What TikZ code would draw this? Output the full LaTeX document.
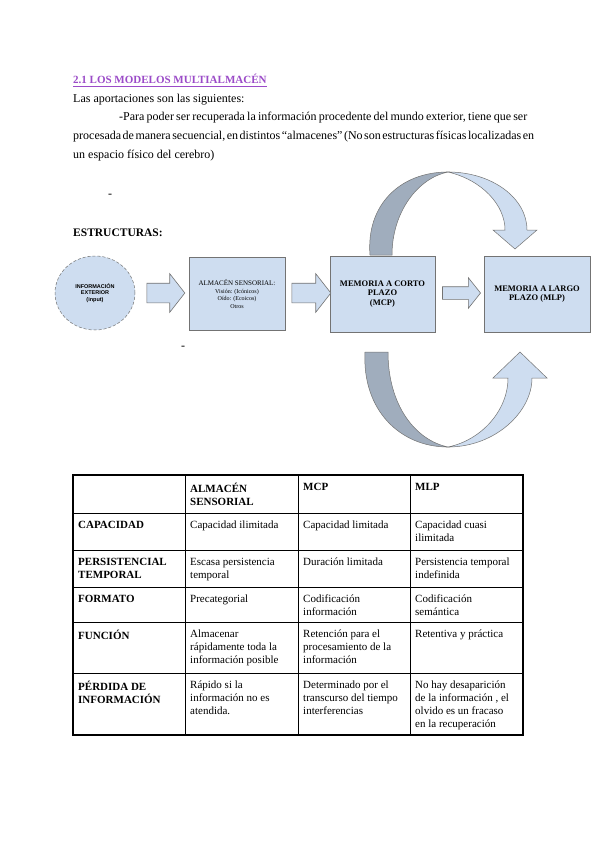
\documentclass[tikz,border=0pt]{standalone}
\usepackage{fontspec}
\setmainfont{Liberation Serif}
\newfontfamily\sansf{Liberation Sans}
\usetikzlibrary{shapes.geometric,shapes.arrows,calc}
\definecolor{boxblue}{RGB}{206,221,240}
\definecolor{darkband}{RGB}{160,173,189}
\definecolor{edgegray}{RGB}{115,115,115}
\definecolor{titlepurple}{RGB}{155,75,200}
\newcommand\cstrut{\rule{0pt}{8pt}}
\begin{document}
\begin{tikzpicture}[x=1pt,y=-1pt,
  txt/.style={anchor=base west, inner sep=0pt, font=\fontsize{12}{14}\selectfont},
  boxstyle/.style={draw=edgegray, line width=0.6pt, fill=boxblue, inner sep=0pt, align=center},
  blockarrow/.style={single arrow, draw=edgegray, fill=boxblue, line width=0.6pt,
     inner xsep=0pt, minimum width=0pt, single arrow head indent=0pt},
  lightband/.style={draw=edgegray, line width=0.5pt, fill=boxblue},
  darkpart/.style={draw=edgegray, line width=0.5pt, fill=darkband},
  cell/.style={anchor=north west, inner sep=0pt, align=left, font=\fontsize{11}{13}\selectfont},
  hcell/.style={cell, font=\bfseries\fontsize{11}{13}\selectfont},
  gridline/.style={line width=0.8pt, black}
]
\useasboundingbox (0,0) rectangle (600,848);
\fill[white] (0,0) rectangle (600,848);

% ---- header text ----
\node[txt, font=\bfseries\fontsize{11}{13}\selectfont, text=titlepurple] (title) at (73,84) {2.1 LOS MODELOS MULTIALMACÉN};
\draw[titlepurple, line width=0.6pt] ($(title.base west)+(0,2.5)$) -- ($(title.base east)+(0,2.5)$);
\node[txt] (intro) at (73,102.5) {Las aportaciones son las siguientes:};
\node[txt] (p1) at (119,121) {\makebox[408pt][s]{-Para poder ser recuperada la información procedente del mundo exterior, tiene que ser}};
\node[txt] (p2) at (73,139.5) {\makebox[454pt][s]{\spaceskip=2pt plus 3pt minus 0.5pt procesada de manera secuencial, en distintos “almacenes” (No son estructuras físicas localizadas en}};
\node[txt] (p3) at (73,158) {un espacio físico del cerebro)};
\node[txt] (dash1) at (108,197) {-};
\node[txt, font=\bfseries\fontsize{11.5}{14}\selectfont] (estr) at (73,236) {ESTRUCTURAS:};
\node[txt] (dash2) at (181,349) {-};

% ---- diagram ----
\node[ellipse, draw=edgegray, densely dashed, line width=0.5pt, fill=boxblue, minimum width=80pt, minimum height=74pt, inner sep=0pt,
      align=center, font=\sansf\bfseries\fontsize{5.5}{6.5}\selectfont] (info) at (95,293)
      {INFORMACIÓN\\EXTERIOR\\(input)};
\node[boxstyle, minimum width=96pt, minimum height=73pt, font=\fontsize{7}{7.5}\selectfont] (alm) at (237,294)
      {ALMACÉN SENSORIAL:\\{\fontsize{6}{7}\selectfont Visión: (Icónicos)}\\{\fontsize{6}{7}\selectfont Oído: (Ecoicos)}\\{\fontsize{6}{7}\selectfont Otros}};
\node[boxstyle, minimum width=105pt, minimum height=76pt, font=\bfseries\fontsize{8.5}{9.5}\selectfont] (mcp) at (382.5,294)
      {MEMORIA A CORTO\\PLAZO\\(MCP)};
\node[boxstyle, minimum width=106pt, minimum height=76pt, font=\bfseries\fontsize{8.5}{9.5}\selectfont] (mlp) at (537,294)
      {MEMORIA A LARGO\\PLAZO (MLP)};

\node[blockarrow, minimum height=38pt, inner ysep=9.5pt, single arrow head extend=9.5pt, single arrow tip angle=104] (a1) at (162,293) {};
\node[blockarrow, minimum height=39pt, inner ysep=9.5pt, single arrow head extend=9.5pt, single arrow tip angle=104] (a2) at (307.5,293) {};
\node[blockarrow, minimum height=38pt, inner ysep=6pt, single arrow head extend=9pt, single arrow tip angle=103] (a3) at (459,293) {};

% top curved arrow
\filldraw[darkpart] (370,255) .. controls (366,205) and (400,172) .. (448,172) .. controls (418,178) and (392,212) .. (392,255) -- cycle;
\filldraw[lightband] (448,172) .. controls (492,172) and (527,198) .. (527,230) -- (537,230) -- (515,249) -- (493,230) -- (505,230) .. controls (505,205) and (482,180) .. (448,172) -- cycle;
% bottom curved arrow
\filldraw[darkpart] (365,352) .. controls (362,410) and (400,447) .. (448,447) .. controls (415,440) and (388,405) .. (388,352) -- cycle;
\filldraw[lightband] (448,447) .. controls (495,447) and (532,412) .. (532,378) -- (547,378) -- (520,352) -- (493,378) -- (508,378) .. controls (508,410) and (482,440) .. (448,447) -- cycle;

% ---- table ----
\foreach \y in {513,550,587,622,673} \draw[gridline] (73,\y) -- (523,\y);
\foreach \x in {185,298,410} \draw[gridline] (\x,475) -- (\x,735);
\draw[line width=1.1pt] (73,475) rectangle (523,735);

\node[hcell] (h1) at (190,482.5) {\cstrut ALMACÉN\\SENSORIAL};
\node[hcell] (h2) at (303,482.5) {\cstrut MCP};
\node[hcell] (h3) at (415,482.5) {\cstrut MLP};

\node[hcell] (r1) at (78,520.5) {\cstrut CAPACIDAD};
\node[cell] (c11) at (190,520.5) {\cstrut Capacidad ilimitada};
\node[cell] (c12) at (303,520.5) {\cstrut Capacidad limitada};
\node[cell] (c13) at (415,520.5) {\cstrut Capacidad cuasi\\ilimitada};

\node[hcell] (r2) at (78,557.5) {\cstrut PERSISTENCIAL\\TEMPORAL};
\node[cell] (c21) at (190,557.5) {\cstrut Escasa persistencia\\temporal};
\node[cell] (c22) at (303,557.5) {\cstrut Duración limitada};
\node[cell] (c23) at (415,557.5) {\cstrut Persistencia temporal\\indefinida};

\node[hcell] (r3) at (78,594.5) {\cstrut FORMATO};
\node[cell] (c31) at (190,594.5) {\cstrut Precategorial};
\node[cell] (c32) at (303,594.5) {\cstrut Codificación\\información};
\node[cell] (c33) at (415,594.5) {\cstrut Codificación\\semántica};

\node[hcell] (r4) at (78,629.5) {\cstrut FUNCIÓN};
\node[cell] (c41) at (190,629.5) {\cstrut Almacenar\\rápidamente toda la\\información posible};
\node[cell] (c42) at (303,629.5) {\cstrut Retención para el\\procesamiento de la\\información};
\node[cell] (c43) at (415,629.5) {\cstrut Retentiva y práctica};

\node[hcell] (r5) at (78,680.5) {\cstrut PÉRDIDA DE\\INFORMACIÓN};
\node[cell] (c51) at (190,680.5) {\cstrut Rápido si la\\información no es\\atendida.};
\node[cell] (c52) at (303,680.5) {\cstrut Determinado por el\\transcurso del tiempo\\interferencias};
\node[cell] (c53) at (415,680.5) {\cstrut No hay desaparición\\de la información , el\\olvido es un fracaso\\en la recuperación};
\end{tikzpicture}
\end{document}
